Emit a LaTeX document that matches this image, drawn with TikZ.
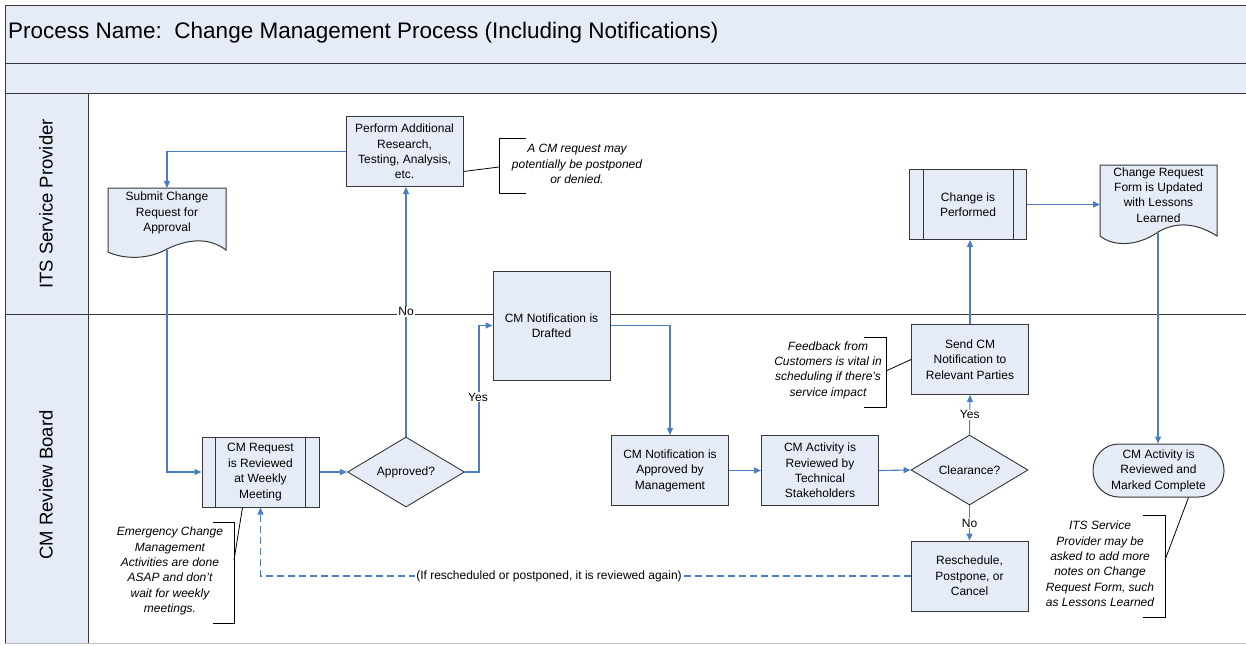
\documentclass[tikz,border=0pt]{standalone}
\usepackage{fontspec}
\setmainfont{Liberation Sans}
\usetikzlibrary{arrows.meta,shapes.geometric,calc}
\definecolor{boxfill}{RGB}{230,236,247}
\definecolor{flowblue}{RGB}{74,126,193}
\definecolor{framec}{RGB}{55,55,55}
\newcommand\cmbody{\fontsize{12}{15.4}\selectfont}
\begin{document}
\begin{tikzpicture}[x=1pt,y=-1pt,
  proc/.style={draw=framec, line width=1pt, fill=boxfill, align=center, font=\cmbody,
    inner sep=1pt, minimum width=117pt, minimum height=70pt},
  decision/.style={diamond, draw=framec, line width=0.9pt, fill=boxfill, aspect=1.66,
    minimum width=117pt, minimum height=70pt, inner sep=0pt, font=\cmbody},
  term/.style={draw=framec, line width=1pt, fill=boxfill, rounded corners=26pt, align=center,
    font=\cmbody, minimum width=131pt, minimum height=53pt, inner sep=1pt},
  doctext/.style={align=center, font=\cmbody, inner sep=0pt},
  note/.style={align=center, font=\cmbody\itshape, inner sep=0pt},
  lbl/.style={fill=white, inner sep=1pt, font=\cmbody},
  flow/.style={draw=flowblue, line width=1.1pt, -{Triangle[length=7pt,width=6pt]}},
  noteline/.style={draw=black, line width=0.8pt},
  lane/.style={draw=framec, line width=1pt}
]
\useasboundingbox (0,0) rectangle (1246,645);
% frame and lanes
\fill[boxfill] (5,5) rectangle (1250,93);
\fill[boxfill] (5,93) rectangle (88,643);
\draw[lane] (5,5) rectangle (1250,63);
\draw[lane] (5,63) rectangle (1250,93);
\draw[lane] (5,93) -- (5,643);
\draw[draw=black!25, line width=1pt] (5,643) -- (1250,643);
\draw[lane] (88,93) -- (88,643);
\draw[lane] (5,314) -- (1250,314);
\node[anchor=west, inner sep=0pt, font=\fontsize{22.5}{27}\selectfont] (title) at (8,33)
  {Process Name:\ \ Change Management Process (Including Notifications)};
\node[rotate=90, inner sep=0pt, font=\fontsize{18.5}{22}\selectfont] (laneA) at (46,204) {ITS Service Provider};
\node[rotate=90, inner sep=0pt, font=\fontsize{18.5}{22}\selectfont] (laneB) at (46,485) {CM Review Board};

% documents
\draw[draw=framec, line width=1pt, fill=boxfill] (108,188) -- (226,188) -- (226,250)
  .. controls (210,238) and (190,238) .. (167,249)
  .. controls (150,259) and (125,260) .. (108,252) -- cycle;
\node[doctext] (submit) at (167,213) {Submit Change\\Request for\\Approval};
\coordinate (submittop) at (167,188);
\coordinate (submitbot) at (167,250);

\draw[draw=framec, line width=1pt, fill=boxfill] (1100,165) -- (1217,165) -- (1217,236)
  .. controls (1195,222) and (1175,222) .. (1158,232)
  .. controls (1140,245) and (1115,248) .. (1100,236) -- cycle;
\node[doctext] (form) at (1158.5,195) {Change Request\\Form is Updated\\with Lessons\\Learned};
\coordinate (formleft) at (1100,204.5);
\coordinate (formbot) at (1158,232);

% process nodes
\node[proc] (perform) at (404.5,151.5) {Perform Additional\\Research,\\Testing, Analysis,\\etc.};
\node[proc] (cmreq) at (260.5,472) {CM Request\\is Reviewed\\at Weekly\\Meeting};
\draw[draw=framec, line width=1pt] ($(cmreq.north west)+(14,0)$) -- ($(cmreq.south west)+(14,0)$);
\draw[draw=framec, line width=1pt] ($(cmreq.north east)+(-14,0)$) -- ($(cmreq.south east)+(-14,0)$);
\node[decision] (approved) at (406,472) {Approved?};
\node[proc, minimum height=109pt] (drafted) at (551.5,325.5) {CM Notification is\\Drafted};
\node[proc] (mgmt) at (670,470.5) {CM Notification is\\Approved by\\Management};
\node[proc] (tech) at (820,470.5) {CM Activity is\\Reviewed by\\Technical\\Stakeholders};
\node[decision] (clear) at (969.5,470) {Clearance?};
\node[proc] (resched) at (969.5,576) {Reschedule,\\Postpone, or\\Cancel};
\node[proc] (send) at (970,359.5) {Send CM\\Notification to\\Relevant Parties};
\node[proc] (performed) at (968,204.5) {Change is\\Performed};
\draw[draw=framec, line width=1pt] ($(performed.north west)+(14,0)$) -- ($(performed.south west)+(14,0)$);
\draw[draw=framec, line width=1pt] ($(performed.north east)+(-14,0)$) -- ($(performed.south east)+(-14,0)$);
\node[term] (done) at (1158.5,470.5) {CM Activity is\\Reviewed and\\Marked Complete};

% notes
\node[note] (note1) at (577,164) {A CM request may\\potentially be postponed\\or denied.};
\draw[noteline] (526,138) -- (499,138) -- (499,193) -- (526,193);
\coordinate (b1) at (499,167);
\draw[noteline] ([yshift=-20pt]perform.east) -- (b1);

\node[note] (note2) at (170,571) {Emergency Change\\Management\\Activities are done\\ASAP and don't\\wait for weekly\\meetings.};
\draw[noteline] (213,522) -- (234,522) -- (234,623) -- (213,623);
\coordinate (b2) at (234,560);
\draw[noteline] (b2) -- ([xshift=-18pt]cmreq.south);

\node[note] (note3) at (828,370) {Feedback from\\Customers is vital in\\scheduling if there's\\service impact};
\draw[noteline] (864,337) -- (886,337) -- (886,407) -- (864,407);
\coordinate (b3) at (886,371);
\draw[noteline] (b3) -- (send.west);

\node[note] (note4) at (1100,564) {ITS Service\\Provider may be\\asked to add more\\notes on Change\\Request Form, such\\as Lessons Learned};
\draw[noteline] (1143,515) -- (1165,515) -- (1165,617) -- (1143,617);
\coordinate (b4) at (1165,560);
\draw[noteline] (b4) -- ([xshift=30pt]done.south);

% flows
\draw[flow] (perform.west) -| (submittop);
\draw[flow] (submitbot) |- (cmreq.west);
\draw[flow] (cmreq.east) -- (approved.west);
\draw[flow] (approved.north) -- (approved.north |- perform.south)
  node[lbl, pos=0.5] (nolbl) {No};
\draw[flow] (approved.east) -- ++(14,0) |- (drafted.west);
\node[lbl] (yeslbl) at (478,397) {Yes};
\draw[flow] (drafted.east) -| (mgmt.north);
\draw[flow] (mgmt.east) -- (tech.west);
\draw[flow] (tech.east) -- (clear.west);
\draw[flow] (clear.north) -- (send.south) node[lbl, midway] (yes2) {Yes};
\draw[flow] (clear.south) -- (resched.north) node[lbl, midway] (no2) {No};
\draw[flow] (send.north) -- (send.north |- performed.south);
\draw[flow] (performed.east) -- (formleft);
\draw[flow] (formbot) -- (formbot |- done.north);
\draw[flow, dash pattern=on 7pt off 4pt] (resched.west) -| (cmreq.south);
\node[lbl] (again) at (549,576) {(If rescheduled or postponed, it is reviewed again)};
\end{tikzpicture}
\end{document}
